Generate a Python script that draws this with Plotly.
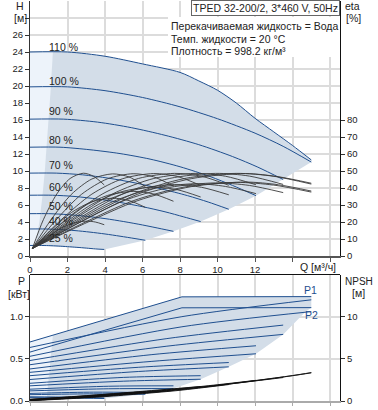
import plotly.graph_objects as go

# ---------------- data ----------------
# Q-H curves at each speed (Q m3/h, H m)
q_110 = [0, 2, 4, 6, 8, 9, 10, 11, 12, 13, 14, 15]
h_110 = [24.0, 24.0, 23.5, 22.6, 21.6, 20.6, 19.5, 18.0, 16.2, 14.6, 13.0, 11.3]
q_100 = [0, 2, 4, 6, 8, 10, 12, 13.5, 15.0]
h_100 = [19.9, 19.9, 19.45, 18.65, 17.55, 16.15, 14.45, 12.9, 11.05]
q_90 = [0, 1.8, 3.6, 5.4, 7.2, 9.0, 10.8, 12.15, 13.5]
h_90 = [16.1, 16.1, 15.75, 15.1, 14.2, 13.1, 11.7, 10.45, 9.0]
q_80 = [0, 1.6, 3.2, 4.8, 6.4, 8.0, 9.6, 10.8, 12.05]
h_80 = [12.8, 12.8, 12.5, 12.05, 11.4, 10.5, 9.35, 8.3, 7.1]
q_70 = [0, 1.4, 2.8, 4.2, 5.6, 7.0, 8.4, 9.5, 10.6]
h_70 = [9.75, 9.75, 9.55, 9.15, 8.6, 7.9, 7.1, 6.35, 5.5]
q_60 = [0, 1.2, 2.4, 3.6, 4.8, 6.0, 7.2, 8.2, 9.1]
h_60 = [7.15, 7.15, 7.0, 6.7, 6.3, 5.8, 5.2, 4.6, 4.05]
q_50 = [0, 1, 2, 3, 4, 5, 6, 7, 7.65]
h_50 = [4.98, 4.98, 4.87, 4.67, 4.4, 4.05, 3.65, 3.2, 2.9]
q_40 = [0, 0.8, 1.6, 2.4, 3.2, 4.0, 4.8, 5.6, 6.15]
h_40 = [3.18, 3.18, 3.11, 2.99, 2.81, 2.59, 2.33, 2.05, 1.85]
q_25 = [0, 0.5, 1, 1.5, 2, 2.5, 3, 3.5, 3.96]
h_25 = [1.24, 1.24, 1.22, 1.17, 1.1, 1.02, 0.93, 0.83, 0.77]

speed_labels = ["110 %", "100 %", "90 %", "80 %", "70 %", "60 %", "50 %", "40 %", "25 %"]
label_h = [24.6, 20.6, 17.05, 13.7, 10.7, 8.1, 5.85, 4.15, 2.08]

# right-hand limit of the operating area (end points of the speed curves)
lim_q = [15.0, 13.5, 12.05, 10.6, 9.1, 7.65, 6.15, 3.96]
lim_h = [11.05, 9.0, 7.1, 5.5, 4.05, 2.9, 1.85, 0.77]
# lighter minimum-flow zone at the left
light_q = [0, 1.22, 1.1, 1.0, 0.9, 0.79, 0.66, 0.5, 0.28, 0]
light_h = [24.0, 24.0, 19.5, 16.1, 13.0, 10.0, 7.0, 4.0, 1.24, 1.24]

# efficiency curves (eta %), pump efficiency family
ep_q_25 = [0.13, 0.71, 1.43, 2.14, 2.85, 3.4, 3.96]
ep_25 = [4.5, 21.3, 36.5, 45.6, 48.7, 46.8, 41.8]
ep_q_40 = [0.13, 1.1, 2.2, 3.3, 4.4, 5.28, 6.15]
ep_40 = [4.5, 21.0, 36.2, 45.3, 48.3, 46.5, 40.8]
ep_q_50 = [0.13, 1.38, 2.75, 4.13, 5.5, 6.58, 7.65]
ep_50 = [4.5, 21.1, 36.3, 45.4, 48.4, 46.6, 41.1]
ep_q_60 = [0.13, 1.65, 3.3, 4.95, 6.6, 7.85, 9.1]
ep_60 = [4.5, 21.2, 36.4, 45.5, 48.5, 46.8, 41.5]
ep_q_70 = [0.13, 1.93, 3.85, 5.78, 7.7, 9.15, 10.6]
ep_70 = [4.5, 21.2, 36.4, 45.6, 48.6, 46.9, 41.6]
ep_q_80 = [0.13, 2.2, 4.4, 6.6, 8.8, 10.43, 12.05]
ep_80 = [4.5, 21.2, 36.5, 45.6, 48.6, 46.9, 41.9]
ep_q_90 = [0.13, 2.48, 4.95, 7.43, 9.9, 11.7, 13.5]
ep_90 = [4.5, 21.3, 36.5, 45.6, 48.6, 47.0, 42.1]
ep_q_100 = [0.13, 2.75, 5.5, 8.25, 11.0, 13.0, 15.0]
ep_100 = [4.5, 21.3, 36.5, 45.6, 48.6, 46.9, 42.3]
ep_q_110 = [0.13, 2.9, 5.75, 8.6, 11.5, 13.25, 15.0]
ep_110 = [4.5, 21.2, 36.4, 45.5, 48.5, 46.6, 42.8]
# total efficiency family
et_q_25 = [0.13, 0.75, 1.5, 2.25, 3.0, 3.48, 3.96]
et_25 = [4.5, 9.0, 15.4, 19.2, 20.5, 20.0, 18.4]
et_40 = [4.5, 14.9, 25.5, 31.9, 34.0, 32.6, 28.6]
et_50 = [4.5, 16.6, 28.5, 35.6, 38.0, 36.5, 32.2]
et_60 = [4.5, 17.7, 30.4, 38.0, 40.5, 39.0, 34.7]
et_70 = [4.5, 18.4, 31.5, 39.4, 42.0, 40.4, 36.0]
et_80 = [4.5, 18.6, 31.9, 39.8, 42.5, 40.9, 36.7]
et_90 = [4.5, 18.8, 32.3, 40.3, 43.0, 41.5, 37.3]
et_100 = [4.5, 18.9, 32.5, 40.6, 43.3, 41.7, 37.6]
et_110 = [4.5, 19.0, 32.6, 40.8, 43.5, 41.9, 38.2]

# power curves P1 / P2 (kW)
pq_110 = [0, 8.1, 15.0]
p1_110 = [0.70, 1.235, 1.238]
p2_110 = [0.58, 1.105, 1.107]
pq_100 = [0, 8.1, 15.0]
p1_100 = [0.635, 1.00, 1.20]
p2_100 = [0.53, 0.88, 1.06]
pq_90 = [0, 7.3, 13.5]
p1_90 = [0.48, 0.74, 0.90]
p2_90 = [0.43, 0.65, 0.79]
pq_80 = [0, 6.5, 12.05]
p1_80 = [0.38, 0.55, 0.655]
p2_80 = [0.34, 0.47, 0.56]
pq_70 = [0, 5.8, 10.6]
p1_70 = [0.30, 0.40, 0.456]
p2_70 = [0.255, 0.35, 0.405]
pq_60 = [0, 5.0, 9.1]
p1_60 = [0.21, 0.28, 0.30]
p2_60 = [0.18, 0.235, 0.258]
pq_50 = [0, 4.2, 7.65]
p1_50 = [0.14, 0.175, 0.18]
p2_50 = [0.12, 0.145, 0.147]
pq_40 = [0, 3.4, 6.15]
p1_40 = [0.09, 0.105, 0.10]
p2_40 = [0.075, 0.085, 0.08]
pq_25 = [0, 2.2, 3.96]
p1_25 = [0.05, 0.045, 0.035]
p2_25 = [0.04, 0.035, 0.03]

plim_q = [15.0, 15.0, 14.7, 13.5, 12.05, 10.6, 9.1, 7.65, 6.15, 3.96, 0]
plim_p = [1.238, 1.107, 1.06, 0.79, 0.56, 0.405, 0.258, 0.147, 0.08, 0.03, 0.03]
plight_q = [0, 1.22, 0.9, 0]
plight_p = [0.70, 0.78, 0.05, 0.04]

# NPSH curves (m)
nq_110 = [0, 2, 4, 6, 8, 10, 12, 14, 15]
n_110 = [0.12, 0.38, 0.7, 1.05, 1.42, 1.88, 2.42, 3.02, 3.37]
nq_100 = [0, 2, 4, 6, 8, 10, 12, 14, 15]
n_100 = [0.1, 0.35, 0.65, 1.0, 1.38, 1.85, 2.4, 3.0, 3.34]
nq_90 = [0, 4, 8, 12, 13.5]
n_90 = [0.06, 0.6, 1.33, 2.38, 2.78]
nq_80 = [0, 2, 4, 6, 8, 10, 12.05]
n_80 = [0.16, 0.43, 0.74, 1.1, 1.47, 1.93, 2.45]
nq_70 = [0, 2, 4, 6, 8, 10.6]
n_70 = [0.03, 0.26, 0.52, 0.87, 1.27, 1.95]
nq_60 = [0, 2, 4, 6, 9.1]
n_60 = [0.2, 0.48, 0.8, 1.15, 1.72]
nq_50 = [0, 2, 4, 6, 7.65]
n_50 = [0.07, 0.3, 0.59, 0.95, 1.25]
nq_40 = [0, 2, 4, 6.15]
n_40 = [0.18, 0.46, 0.77, 1.12]
nq_25 = [0, 2, 3.96]
n_25 = [0.1, 0.38, 0.7]

x_ticks = [0, 2, 4, 6, 8, 10, 12, 14, 16]
x_ticktext = ["0", "2", "4", "6", "8", "10", "12", "", ""]
h_ticks = list(range(0, 29, 2))
h_ticktext = [str(v) for v in range(0, 27, 2)] + [""]
eta_ticks = [0, 10, 20, 30, 40, 50, 60, 70, 80]
p_ticks = [0, 0.5, 1.0]
p_ticktext = ["0.0", "0.5", "1.0"]
npsh_ticks = [0, 5, 10]

# ---------------- styling ----------------
BLUE = "#1f4f8f"
ETA = "#3a3a3a"
SHADE = "#d3dde8"
LIGHT = "#edf3fa"
GRID = "#dcdcdc"
FONT = "Liberation Sans, Arial, sans-serif"

fig = go.Figure()

def poly(x, y, color, xa, ya):
    fig.add_trace(go.Scatter(x=x, y=y, mode="lines", fill="toself", fillcolor=color,
                             line=dict(width=0, color=color), xaxis=xa, yaxis=ya,
                             hoverinfo="skip"))

def line(x, y, color, width, xa, ya, spline=True):
    fig.add_trace(go.Scatter(x=x, y=y, mode="lines",
                             line=dict(color=color, width=width,
                                       shape="spline" if spline else "linear", smoothing=0.8),
                             xaxis=xa, yaxis=ya, hoverinfo="skip"))

# top plot: operating area
poly(q_110 + lim_q + q_25[::-1], h_110 + lim_h + h_25[::-1], SHADE, "x", "y")
poly(light_q, light_h, LIGHT, "x", "y")

hq = [(q_110, h_110), (q_100, h_100), (q_90, h_90), (q_80, h_80), (q_70, h_70),
      (q_60, h_60), (q_50, h_50), (q_40, h_40), (q_25, h_25)]
for q, h in hq:
    line(q, h, BLUE, 1, "x", "y")

eta_sets = [(ep_q_25, ep_25), (ep_q_40, ep_40), (ep_q_50, ep_50), (ep_q_60, ep_60),
            (ep_q_70, ep_70), (ep_q_80, ep_80), (ep_q_90, ep_90), (ep_q_100, ep_100),
            (ep_q_110, ep_110),
            (et_q_25, et_25), (ep_q_40, et_40), (ep_q_50, et_50), (ep_q_60, et_60),
            (ep_q_70, et_70), (ep_q_80, et_80), (ep_q_90, et_90), (ep_q_100, et_100),
            (ep_q_110, et_110)]
for q, e in eta_sets:
    line(q, e, ETA, 0.9, "x", "y2")

# bottom plot: power
poly(pq_110 + plim_q, p1_110 + plim_p, SHADE, "x2", "y3")
poly(plight_q, plight_p, LIGHT, "x2", "y3")
p_sets = [(pq_110, p1_110), (pq_110, p2_110), (pq_100, p1_100), (pq_100, p2_100),
          (pq_90, p1_90), (pq_90, p2_90), (pq_80, p1_80), (pq_80, p2_80),
          (pq_70, p1_70), (pq_70, p2_70), (pq_60, p1_60), (pq_60, p2_60),
          (pq_50, p1_50), (pq_50, p2_50), (pq_40, p1_40), (pq_40, p2_40),
          (pq_25, p1_25), (pq_25, p2_25)]
for i, (q, p) in enumerate(p_sets):
    line(q, p, BLUE, 1, "x2", "y3", spline=(i >= 2))

n_sets = [(nq_110, n_110), (nq_100, n_100), (nq_90, n_90), (nq_80, n_80), (nq_70, n_70),
          (nq_60, n_60), (nq_50, n_50), (nq_40, n_40), (nq_25, n_25)]
for q, n in n_sets:
    line(q, n, "#111111", 0.9, "x2", "y4")

tickfont = dict(family=FONT, size=9.5, color="#222")
fig.update_layout(
    width=378, height=410, margin=dict(l=30, r=38, t=1, b=9),
    paper_bgcolor="white", plot_bgcolor="white", showlegend=False,
    font=dict(family=FONT, size=10, color="#222"),
    xaxis=dict(domain=[0, 1], anchor="y", range=[0, 16.53], tickvals=x_ticks,
               ticktext=x_ticktext, showgrid=True, gridcolor=GRID, gridwidth=1.5,
               showline=True, linecolor="#555", linewidth=1.5, ticks="outside",
               ticklen=4, tickcolor="#555", zeroline=False, tickfont=tickfont),
    yaxis=dict(domain=[0.3625, 1], anchor="x", range=[0, 30], tickvals=h_ticks,
               ticktext=h_ticktext, showgrid=True, gridcolor=GRID, gridwidth=1.5,
               showline=True, linecolor="#333", linewidth=1, ticks="outside",
               ticklen=4, tickcolor="#333", zeroline=False, tickfont=tickfont),
    yaxis2=dict(overlaying="y", side="right", anchor="x", range=[0, 150],
                tickvals=eta_ticks, showgrid=False, showline=True, linecolor="#111",
                linewidth=1, ticks="outside", ticklen=4, tickcolor="#333",
                zeroline=False, tickfont=tickfont),
    xaxis2=dict(domain=[0, 1], anchor="y3", range=[0, 16.53], tickvals=x_ticks,
                showticklabels=False, showgrid=True, gridcolor=GRID, gridwidth=1.5,
                showline=True, linecolor="#aaa", linewidth=2, ticks="outside",
                ticklen=3, tickcolor="#aaa", zeroline=False),
    yaxis3=dict(domain=[0, 0.31625], anchor="x2", range=[0, 1.5], tickvals=p_ticks,
                ticktext=p_ticktext, showgrid=True, gridcolor=GRID, gridwidth=1.5,
                showline=True, linecolor="#333", linewidth=1, ticks="outside",
                ticklen=4, tickcolor="#333", zeroline=False, tickfont=tickfont),
    yaxis4=dict(overlaying="y3", side="right", anchor="x2", range=[0, 15],
                tickvals=npsh_ticks, showgrid=False, showline=True, linecolor="#111",
                linewidth=1, ticks="outside", ticklen=4, tickcolor="#333",
                zeroline=False, tickfont=tickfont),
)

shapes = [
    dict(type="line", xref="paper", yref="paper", x0=0, x1=1, y0=0.31625, y1=0.31625,
         line=dict(color="#111", width=1), layer="above"),
    dict(type="rect", xref="paper", yref="paper", x0=(168 - 30) / 310, x1=1,
         y0=(401 - 57) / 400, y1=(401 - 17) / 400, fillcolor="white",
         line=dict(width=0), layer="above"),
]
fig.update_layout(shapes=shapes)

ann = []
for lab, hy in zip(speed_labels, label_h):
    ann.append(dict(x=0.88, y=hy, xref="x", yref="y", text=lab, showarrow=False,
                    xanchor="left", yanchor="middle", font=dict(size=10.5, color="#222")))

def pa(text, px, py, xanchor="center", size=10.5, color="#222", **kw):
    d = dict(x=(px - 30) / 310, y=(401 - py) / 400, xref="paper", yref="paper",
             text=text, showarrow=False, xanchor=xanchor, yanchor="middle",
             font=dict(size=size, color=color, family=FONT))
    d.update(kw)
    ann.append(d)

pa("H", 20, 6)
pa("[м]", 20, 18)
pa("eta", 352, 6)
pa("[%]", 353, 18)
pa("Q [м³/ч]", 318, 267)
pa("P", 21, 281)
pa("[кВт]", 19, 294)
pa("NPSH", 359, 281, size=10)
pa("[м]", 358, 293)
pa("P1", 310, 290, color=BLUE)
pa("P2", 311, 315, color=BLUE)
pa("Перекачиваемая жидкость = Вода", 169, 26, xanchor="left")
pa("Темп. жидкости = 20 °C", 169, 38.7, xanchor="left")
pa("Плотность = 998.2 кг/м³", 169, 51, xanchor="left")
pa("TPED 32-200/2, 3*460 V, 50Hz", 339.5, 8, xanchor="right", bgcolor="white",
   bordercolor="#666", borderwidth=1, borderpad=1)
fig.update_layout(annotations=ann)

fig.write_html("out.html", config={"displayModeBar": False},
               post_script="document.body.style.margin='0px';")
